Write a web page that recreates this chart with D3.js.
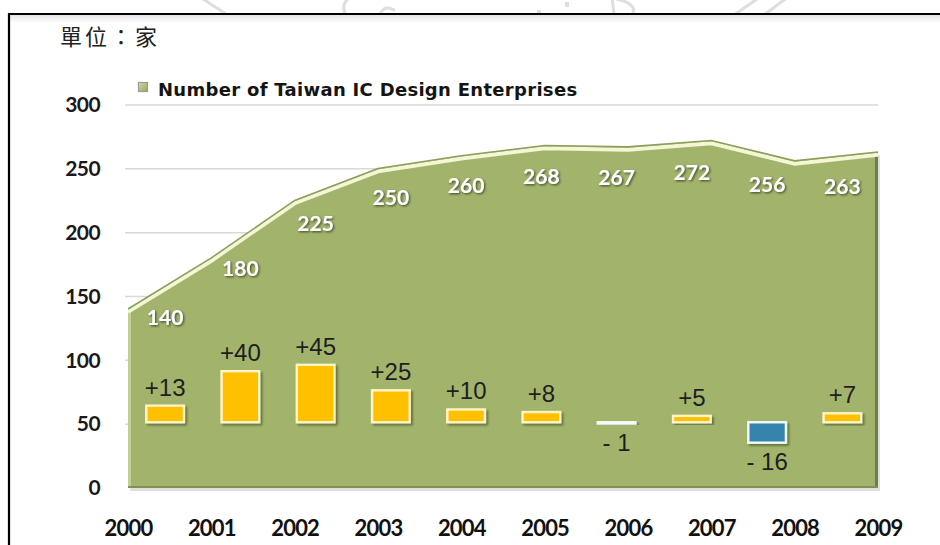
<!DOCTYPE html>
<html><head><meta charset="utf-8">
<script src="https://cdn.jsdelivr.net/npm/d3@7/dist/d3.min.js"></script>
<style>html,body{margin:0;padding:0;background:#fff;} svg{display:block;}</style>
</head><body>
<svg id="chart" width="940" height="545"></svg>
<script>
// ---- data ----
const years = ["2000","2001","2002","2003","2004","2005","2006","2007","2008","2009"];
const enterprises = [140,180,225,250,260,268,267,272,256,263];
const changes = [13,40,45,25,10,8,-1,5,-16,7];
const yTicks = [0,50,100,150,200,250,300];
const unitLabel = "單位：家";
const legendLabel = "Number of Taiwan IC Design Enterprises";

// ---- layout ----
const W = 940, H = 545;
const plot = {left: 128, right: 878, top: 105, bottom: 488};
const barBase = 51.5;            // value level the change bars grow from
const svg = d3.select("#chart");
const defs = svg.append("defs");

const shadow = defs.append("filter").attr("id","shadow").attr("x","-20%").attr("y","-20%").attr("width","150%").attr("height","160%");
shadow.append("feDropShadow").attr("dx",2).attr("dy",2).attr("stdDeviation",1.2)
  .attr("flood-color","#3b4420").attr("flood-opacity",0.6);
const tshadow = defs.append("filter").attr("id","tshadow").attr("x","-20%").attr("y","-30%").attr("width","150%").attr("height","170%");
tshadow.append("feDropShadow").attr("dx",1.2).attr("dy",1.2).attr("stdDeviation",0.8)
  .attr("flood-color","#2f3a1c").attr("flood-opacity",0.85);
const topGrad = defs.append("linearGradient").attr("id","topGrad").attr("x1",0).attr("y1",0).attr("x2",0).attr("y2",1);
topGrad.append("stop").attr("offset","0%").attr("stop-color","#e6e6e6");
topGrad.append("stop").attr("offset","100%").attr("stop-color","#ffffff");
const legGrad = defs.append("linearGradient").attr("id","legGrad").attr("x1",0).attr("y1",0).attr("x2",1).attr("y2",1);
legGrad.append("stop").attr("offset","0%").attr("stop-color","#d4dfa8");
legGrad.append("stop").attr("offset","100%").attr("stop-color","#8fa35a");

// background
svg.append("rect").attr("width",W).attr("height",H).attr("fill","#fff");

// faint watermark strokes above the frame
const wm = svg.append("g").attr("stroke","#dedede").attr("stroke-width",3).attr("fill","none").attr("stroke-linecap","round");
["M200,-3 L226,14","M350,-3 Q340,5 346,15","M380,15 Q384,4 394,10","M606,-3 Q640,2 632,15","M612,-3 L614,14","M760,-3 L734,15","M788,-3 L764,15"]
  .forEach(p => wm.append("path").attr("d",p));
wm.append("rect").attr("x",565).attr("y",2).attr("width",4).attr("height",5).attr("fill","#dedede").attr("stroke","none");
wm.append("rect").attr("x",537).attr("y",10).attr("width",4).attr("height",4).attr("fill","#dedede").attr("stroke","none");

// frame
svg.append("rect").attr("x",10).attr("y",15).attr("width",W-10).attr("height",8).attr("fill","url(#topGrad)");
svg.append("line").attr("x1",9).attr("x2",W).attr("y1",14).attr("y2",14).attr("stroke","#000").attr("stroke-width",2.2);
svg.append("line").attr("x1",9).attr("x2",9).attr("y1",13).attr("y2",H).attr("stroke","#000").attr("stroke-width",2.2);

// ---- scales ----
const y = d3.scaleLinear().domain([0,300]).range([plot.bottom, plot.top]);
const xPoint = d3.scalePoint().domain(years).range([plot.left, plot.right]);
const xBand = d3.scaleBand().domain(years).range([plot.left - 0.5, plot.right + 2]).paddingInner(0.5).paddingOuter(0.25);

// gridlines
svg.append("g").selectAll("line").data(yTicks.filter(t => t > 0)).join("line")
  .attr("x1",plot.left - 3).attr("x2",plot.right)
  .attr("y1",d => y(d)).attr("y2",d => y(d))
  .attr("stroke","#d9d9d9").attr("stroke-width",1.5);

// y axis labels
const yAxis = svg.append("g").attr("transform","translate(100,0)")
  .call(d3.axisLeft(y).tickValues(yTicks).tickSize(0).tickPadding(0).tickFormat(d3.format("d")));
yAxis.select(".domain").remove();
yAxis.selectAll("text").attr("font-family","Lato, sans-serif").attr("font-weight",700)
  .attr("font-size",21).attr("fill","#1a1a1a").attr("letter-spacing","-0.6px");

// x axis labels
const xAxis = svg.append("g").attr("transform","translate(0,0)")
  .call(d3.axisBottom(xPoint).tickSize(0).tickPadding(0));
xAxis.select(".domain").remove();
xAxis.selectAll("text").attr("y",536).attr("dy",null)
  .attr("font-family","Lato, sans-serif").attr("font-weight",700)
  .attr("font-size",22).attr("fill","#111").attr("letter-spacing","-0.8px");

// ---- area ----
const pts = years.map((yr,i) => ({year: yr, value: enterprises[i]}));
const area = d3.area().x(d => xPoint(d.year)).y0(y(0)).y1(d => y(d.value));
const line = d3.line().x(d => xPoint(d.year)).y(d => y(d.value));

// soft shadow under area
svg.append("path").datum(pts).attr("d",area).attr("fill","#c9c9c9")
  .attr("transform","translate(2,3)").attr("opacity",0.6);
svg.append("path").datum(pts).attr("d",area).attr("fill","#a2b46c");

const clip = defs.append("clipPath").attr("id","areaClip");
clip.append("rect").attr("x",plot.left).attr("y",0).attr("width",plot.right - plot.left).attr("height",H);

const edges = svg.append("g").attr("clip-path","url(#areaClip)");
// left bevel
edges.append("line").attr("x1",plot.left + 1.5).attr("x2",plot.left + 1.5)
  .attr("y1",y(enterprises[0])).attr("y2",plot.bottom)
  .attr("stroke","#c3d095").attr("stroke-width",3);
// right dark edge
edges.append("line").attr("x1",plot.right - 1.5).attr("x2",plot.right - 1.5)
  .attr("y1",y(enterprises[enterprises.length-1])).attr("y2",plot.bottom)
  .attr("stroke","#6d7f45").attr("stroke-width",3);
// bottom dark edge
edges.append("line").attr("x1",plot.left).attr("x2",plot.right)
  .attr("y1",plot.bottom - 1).attr("y2",plot.bottom - 1)
  .attr("stroke","#7f9251").attr("stroke-width",2);
// top edges
edges.append("path").datum(pts).attr("d",line).attr("fill","none")
  .attr("stroke","#f4f6d6").attr("stroke-width",4).attr("transform","translate(0,2.5)");
edges.append("path").datum(pts).attr("d",line).attr("fill","none")
  .attr("stroke","#8ca05c").attr("stroke-width",1.6).attr("transform","translate(0,-0.3)");

// ---- change bars ----
const bars = years.map((yr,i) => ({year: yr, change: changes[i]}));
svg.append("g").selectAll("rect").data(bars).join("rect")
  .attr("x",d => xBand(d.year))
  .attr("width",xBand.bandwidth())
  .attr("y",d => y(barBase + Math.max(0,d.change)))
  .attr("height",d => Math.abs(y(barBase + d.change) - y(barBase)))
  .attr("fill",d => d.change >= 0 ? "#ffc000" : "#3584ad")
  .attr("stroke",d => d.change >= 0 ? "#fff5c8" : "#f2fbfd")
  .attr("stroke-width",2.4)
  .attr("filter","url(#shadow)");

svg.append("g").selectAll("text").data(bars).join("text")
  .attr("x",d => xBand(d.year) + xBand.bandwidth()/2)
  .attr("y",d => d.change >= 0 ? y(barBase + d.change) - 10 : y(barBase + d.change) + 27)
  .attr("text-anchor","middle")
  .attr("font-family","'Liberation Sans', Arial, sans-serif")
  .attr("font-size",24).attr("fill","#1e1e1e")
  .text(d => d.change >= 0 ? "+" + d.change : "- " + Math.abs(d.change));

// ---- area value labels (at band centres, below the top edge) ----
const px = years.map(yr => xPoint(yr));
function lineYAt(x) {
  let i = d3.bisectRight(px, x) - 1;
  i = Math.max(0, Math.min(px.length - 2, i));
  const t = (x - px[i]) / (px[i+1] - px[i]);
  return y(enterprises[i] + t * (enterprises[i+1] - enterprises[i]));
}
svg.append("g").selectAll("text").data(pts).join("text")
  .attr("x",d => xBand(d.year) + xBand.bandwidth()/2)
  .attr("y",d => lineYAt(xBand(d.year) + xBand.bandwidth()/2) + 38)
  .attr("text-anchor","middle")
  .attr("font-family","Lato, sans-serif").attr("font-weight",700)
  .attr("font-size",21).attr("fill","#ffffff")
  .attr("filter","url(#tshadow)")
  .text(d => d.value);

// ---- title & legend ----
svg.append("text").attr("x",60).attr("y",45)
  .attr("font-family","'Noto Sans CJK TC', sans-serif").attr("font-size",22).attr("font-weight",400)
  .attr("fill","#222").attr("letter-spacing","3px").text(unitLabel);

svg.append("rect").attr("x",138.5).attr("y",82.5).attr("width",9).attr("height",9)
  .attr("fill","url(#legGrad)").attr("stroke","#9a9a9a").attr("stroke-width",1.2);
svg.append("text").attr("x",158).attr("y",96)
  .attr("font-family","'DejaVu Sans', sans-serif").attr("font-weight",700)
  .attr("font-size",18).attr("fill","#141414").attr("letter-spacing","0.3px")
  .text(legendLabel);
</script>
</body></html>
